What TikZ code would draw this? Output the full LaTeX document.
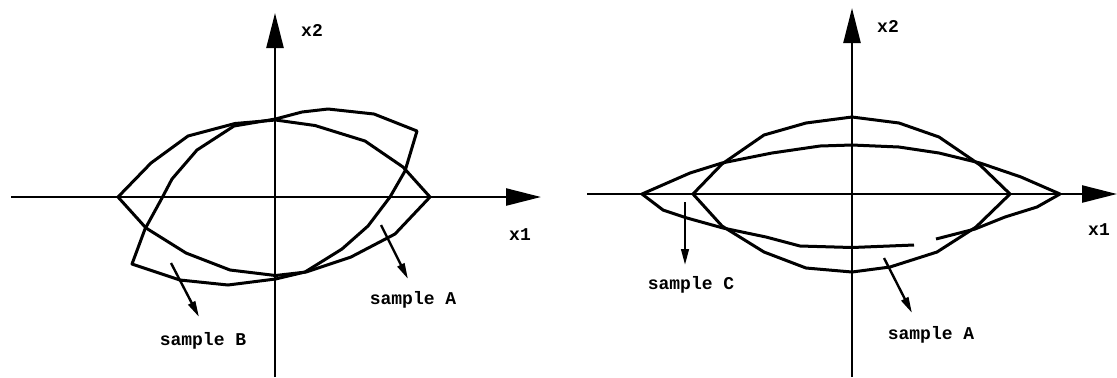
\documentclass[tikz,border=0pt]{standalone}
\usepackage{fontspec}
\setmonofont{Liberation Mono}
\usetikzlibrary{arrows.meta}

\begin{document}
\begin{tikzpicture}[x=0.5pt, y=-0.5pt,
    axis/.style={line width=1.2pt, -{Triangle[length=17.5pt, width=8.5pt]}},
    contour/.style={line width=1.5pt, line join=round},
    pointer/.style={line width=1.2pt, -{Triangle[length=8pt, width=3.8pt]}},
    lbl/.style={font=\fontsize{9}{10}\selectfont\ttfamily\bfseries, inner sep=0pt}]
  \useasboundingbox (0,0) rectangle (1117,377);

  % left plot: axes
  \coordinate (Lw) at (11,197);
  \coordinate (Le) at (541,197);
  \coordinate (Ls) at (275,377);
  \coordinate (Ln) at (275,13);
  \draw[axis] (Lw) -- (Le);
  \draw[axis] (Ls) -- (Ln);
  \node[lbl] (Lx2) at (312,30) {x2};
  \node[lbl] (Lx1) at (520,235) {x1};

  % left plot: sample A and sample B
  \draw[contour] (118,197) -- (151,163) -- (188,136) -- (235,123.5) -- (275.5,120)
    -- (315,125.5) -- (365,141) -- (403,167) -- (430,197) -- (395,234) -- (351,257)
    -- (306,272) -- (275.5,275.5) -- (230,270) -- (186,253) -- (146,228) -- cycle;
  \draw[contour] (132,264) -- (145,229) -- (162,198) -- (172,179) -- (197,150)
    -- (234,126) -- (275.5,119) -- (302,112) -- (328,109) -- (374,114) -- (417,131)
    -- (405,171) -- (390,197) -- (368,226) -- (342,249) -- (305,272) -- (275.5,279)
    -- (228,285) -- (180,280) -- cycle;

  \coordinate (ptB) at (171,263);
  \coordinate (endB) at (199,317);
  \coordinate (ptAl) at (381,225);
  \coordinate (endAl) at (408,279);
  \draw[pointer] (ptB) -- (endB);
  \draw[pointer] (ptAl) -- (endAl);
  \node[lbl] (smpB) at (203,341) {sample B};
  \node[lbl] (smpAl) at (413,300) {sample A};

  % right plot: axes
  \coordinate (Rw) at (587,194);
  \coordinate (Re) at (1117,194);
  \coordinate (Rs) at (852,377);
  \coordinate (Rn) at (852,8);
  \draw[axis] (Rw) -- (Re);
  \draw[axis] (Rs) -- (Rn);
  \node[lbl] (Rx2) at (888,26) {x2};
  \node[lbl] (Rx1) at (1099,230) {x1};

  % right plot: sample A and sample C
  \draw[contour] (693,194) -- (722,164) -- (764,135) -- (806,123) -- (852,117)
    -- (899,123) -- (939,137) -- (980,165) -- (1010,194) -- (976,227) -- (937,252)
    -- (890,267) -- (852,272) -- (806,268) -- (764,252) -- (722,226) -- cycle;
  \draw[contour] (936,239) -- (975,229) -- (1005,217) -- (1037,207) -- (1060,194)
    -- (1021,177) -- (980,163) -- (939,153) -- (899,147) -- (852,145) -- (820,146)
    -- (772,153) -- (722,163) -- (690,173) -- (642,194) -- (663,210) -- (687,218)
    -- (723,228) -- (766,237) -- (800,246) -- (852,247.5) -- (914,245);

  \coordinate (ptC) at (685,202);
  \coordinate (endC) at (685,265);
  \coordinate (ptAr) at (884,258);
  \coordinate (endAr) at (912,313);
  \draw[pointer] (ptC) -- (endC);
  \draw[pointer] (ptAr) -- (endAr);
  \node[lbl] (smpC) at (691,285) {sample C};
  \node[lbl] (smpAr) at (931,335) {sample A};
\end{tikzpicture}
\end{document}
